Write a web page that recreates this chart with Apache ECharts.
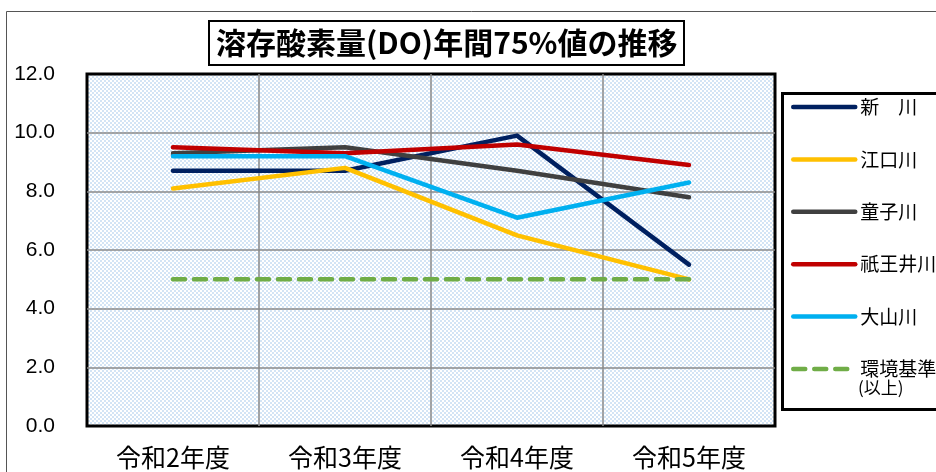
<!DOCTYPE html>
<html>
<head>
<meta charset="utf-8">
<script src="https://cdn.jsdelivr.net/npm/echarts@6/dist/echarts.min.js"></script>
<style>
html,body{margin:0;padding:0;background:#fff;}
#main{width:936px;height:472px;}
</style>
</head>
<body>
<div id="main"></div>
<script>
// ---- data ----
const categories = ['令和2年度', '令和3年度', '令和4年度', '令和5年度'];
const seriesNames = ['新　川', '江口川', '童子川', '祇王井川', '大山川', '環境基準'];
const kijunNote = '(以上)';
const shinkawa = [8.7, 8.7, 9.9, 5.5];
const eguchigawa = [8.1, 8.8, 6.5, 5.0];
const doujigawa = [9.3, 9.5, 8.7, 7.8];
const giougawa = [9.5, 9.3, 9.6, 8.9];
const ooyamagawa = [9.2, 9.2, 7.1, 8.3];
const kijun = [5.0, 5.0, 5.0, 5.0];
const yTicks = [0, 2, 4, 6, 8, 10, 12];
const titleText = '溶存酸素量(DO)年間75%値の推移';

// ---- styles ----
const colors = ['#002060', '#FFC000', '#404040', '#C00000', '#00B0F0', '#70AD47'];
const valueSets = [shinkawa, eguchigawa, doujigawa, giougawa, ooyamagawa, kijun];

function makePattern() {
  const c = document.createElement('canvas');
  c.width = 4; c.height = 4;
  const ctx = c.getContext('2d');
  ctx.fillStyle = '#ffffff';
  ctx.fillRect(0, 0, 4, 4);
  ctx.fillStyle = '#d3e4f5';
  ctx.fillRect(0, 0, 2, 2);
  ctx.fillRect(2, 2, 2, 2);
  return c;
}

const chart = echarts.init(document.getElementById('main'), null, {renderer: 'canvas'});
const cjk = '"Noto Sans CJK JP", "Noto Sans", sans-serif';

const series = valueSets.map((vals, i) => ({
  name: seriesNames[i],
  type: 'line',
  data: vals,
  symbol: 'none',
  z: 3 + i,
  lineStyle: {
    color: colors[i],
    width: 4.5,
    cap: 'round',
    join: 'round',
    type: i === 5 ? [12, 9] : 'solid'
  },
  itemStyle: {color: colors[i]}
}));

const option = {
  animation: false,
  backgroundColor: '#ffffff',
  title: {
    text: titleText,
    left: 209,
    top: 21,
    padding: [5, 7, 5, 7],
    borderColor: '#000',
    borderWidth: 2,
    backgroundColor: '#fff',
    textStyle: {fontFamily: cjk, fontSize: 30, fontWeight: 'bold', color: '#000', lineHeight: 34}
  },
  grid: {
    left: 87, right: 161, top: 74, bottom: 46,
    show: true,
    backgroundColor: {image: makePattern(), repeat: 'repeat'},
    borderColor: '#000',
    borderWidth: 3
  },
  legend: {
    orient: 'vertical',
    left: 791,
    top: 97,
    padding: 0,
    itemWidth: 62,
    itemHeight: 20,
    itemGap: 32.4,
    lineStyle: {width: 4.5, cap: 'round'},
    itemStyle: {color: 'rgba(0,0,0,0)', borderColor: 'rgba(0,0,0,0)', borderWidth: 0},
    data: seriesNames,
    textStyle: {
      fontFamily: cjk, fontSize: 19, color: '#000', lineHeight: 20
    }
  },
  xAxis: {
    type: 'category',
    data: categories,
    boundaryGap: true,
    axisLine: {show: false},
    axisTick: {show: false},
    axisLabel: {fontFamily: cjk, fontSize: 25, color: '#000', margin: 19},
    splitLine: {show: true, showMinLine: false, showMaxLine: false, lineStyle: {color: '#8a8a8a', width: 1.5}}
  },
  yAxis: {
    type: 'value',
    min: yTicks[0],
    max: yTicks[yTicks.length - 1],
    interval: yTicks[1] - yTicks[0],
    axisLine: {show: false},
    axisTick: {show: false},
    axisLabel: {
      fontFamily: '"Liberation Sans", Arial, sans-serif',
      fontSize: 21, color: '#000', margin: 32,
      formatter: v => v.toFixed(1)
    },
    splitLine: {show: true, showMinLine: false, showMaxLine: false, lineStyle: {color: '#8a8a8a', width: 1.5}}
  },
  graphic: [
    {type: 'rect', left: 4, top: 9, z: -10, silent: true,
     shape: {x: 0, y: 0, width: 1000, height: 1000},
     style: {fill: 'none', stroke: '#555', lineWidth: 1}},
    {type: 'rect', left: 781, top: 92, z: -5, silent: true,
     shape: {x: 0, y: 0, width: 300, height: 316},
     style: {fill: '#fff', stroke: '#000', lineWidth: 3}},
    {type: 'text', left: 858, top: 379, z: 10, silent: true,
     style: {text: kijunNote, fontFamily: cjk, fontSize: 17, fill: '#000'}}
  ],
  series: series
};

chart.setOption(option);
</script>
</body>
</html>
